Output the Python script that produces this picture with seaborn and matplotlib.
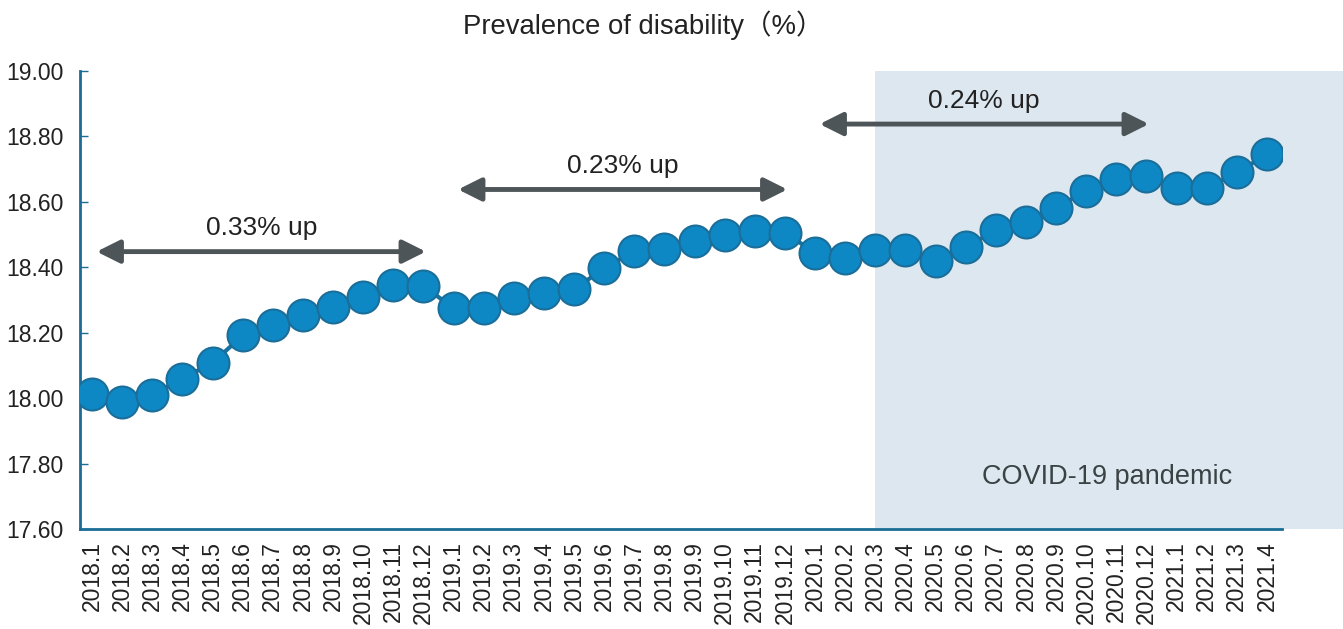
"""Prevalence of disability, monthly 2018.1 - 2021.4."""

import numpy as np
import pandas as pd
import matplotlib
matplotlib.use("Agg")
import matplotlib.pyplot as plt
from matplotlib.patches import Rectangle
import seaborn as sns

months = (
    [f"2018.{m}" for m in range(1, 13)]
    + [f"2019.{m}" for m in range(1, 13)]
    + [f"2020.{m}" for m in range(1, 13)]
    + [f"2021.{m}" for m in range(1, 5)]
)
prevalence = [
    18.013, 17.988, 18.010, 18.060, 18.108, 18.192, 18.223, 18.253, 18.278, 18.308, 18.345, 18.343,
    18.275, 18.275, 18.305, 18.323, 18.333, 18.397, 18.450, 18.455, 18.480, 18.500, 18.510, 18.505,
    18.445, 18.430, 18.452, 18.452, 18.418, 18.462, 18.513, 18.540, 18.582, 18.634, 18.669, 18.680,
    18.641, 18.641, 18.690, 18.745,
]
# (start month, end month, label)
periods = [("2018.1", "2018.12", "0.33% up"),
           ("2019.1", "2019.12", "0.23% up"),
           ("2020.1", "2020.12", "0.24% up")]
covid_start = "2020.3"

df = pd.DataFrame({"month": months, "value": prevalence})
df["pos"] = np.arange(len(df))

sns.set_style("white")
plt.rcParams["font.family"] = ["Liberation Sans", "Noto Sans CJK SC", "DejaVu Sans"]

fig = plt.figure(figsize=(13.43, 6.29), dpi=100)
ax = fig.add_axes([0.0596, 0.159, 0.895, 0.728])

spine_col = "#1b6d96"
dot_col = "#0e88c4"
arrow_col = "#4d5558"

# covid shading, runs past the axes to the figure edge
ci = months.index(covid_start)
ax.add_patch(Rectangle((ci, 17.6), 20, 1.4, facecolor="#dce7f0",
                       edgecolor="none", clip_on=False, zorder=0))
ax.text(33.7, 17.76, "COVID-19 pandemic", fontsize=19.5, color="#3a4244",
        ha="center", va="center")

sns.lineplot(data=df, x="pos", y="value", ax=ax, color="#16729f", linewidth=3,
             marker="o", markersize=23, markerfacecolor=dot_col,
             markeredgecolor="#1a6e99", markeredgewidth=1.5, zorder=3)

# arrows with period change
for (a, b, lab), ytxt in zip(periods, [18.52, 18.71, 18.91]):
    x0 = months.index(a) + 0.15
    x1 = months.index(b) + 0.08
    yarr = ytxt - 0.072
    ax.annotate("", xy=(x1, yarr), xytext=(x0, yarr),
                arrowprops=dict(arrowstyle="<|-|>,head_length=0.7,head_width=0.35",
                                color=arrow_col, lw=3.5, shrinkA=0, shrinkB=0,
                                mutation_scale=20))
    ax.text((x0 + x1) / 2, ytxt, lab, fontsize=19, color="#222222",
            ha="center", va="center")

ax.set_xlim(-0.4, 39.5)
ax.set_ylim(17.6, 19.0)
ax.set_yticks(np.arange(17.6, 19.01, 0.2))
ax.set_yticklabels([f"{v:.2f}" for v in np.arange(17.6, 19.01, 0.2)])
ax.set_xticks(df["pos"])
ax.set_xticklabels(months, rotation=90, va="top", ha="center")
ax.tick_params(axis="y", direction="in", length=6, width=1, color=spine_col,
               labelsize=16.5, labelcolor="#222222", pad=12, left=True)
ax.tick_params(axis="x", length=0, labelsize=16.5, labelcolor="#222222", pad=9)
ax.set_xlabel("")
ax.set_ylabel("")

for side in ["top", "right"]:
    ax.spines[side].set_visible(False)
for side in ["left", "bottom"]:
    ax.spines[side].set_color(spine_col)
    ax.spines[side].set_linewidth(2)
    ax.spines[side].set_zorder(2.5)

fig.text(0.479, 0.96, "Prevalence of disability（%）", fontsize=19.8,
         color="#222222", ha="center", va="center")

fig.savefig("out.png", dpi=100)
